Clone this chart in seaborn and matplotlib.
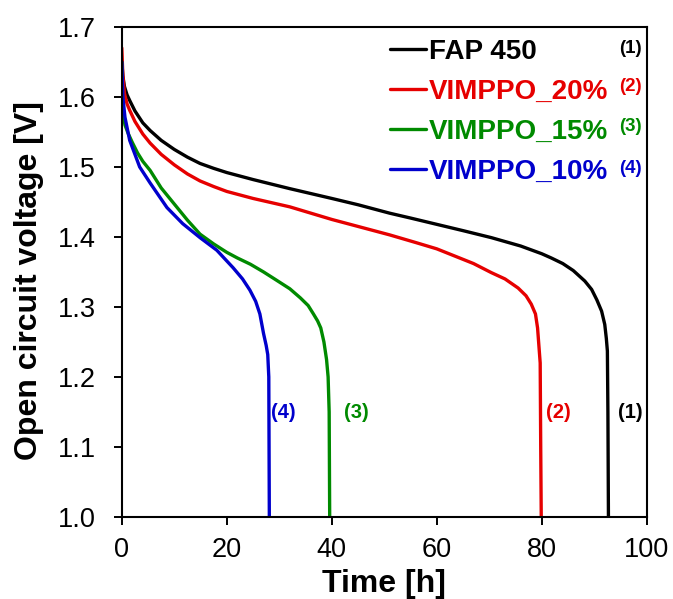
import pandas as pd
import matplotlib.pyplot as plt
import seaborn as sns

# valeurs (t en h, tension en V)
t_fap = [0, 0.2, 0.5, 1, 1.5, 2.5, 4, 5.4, 7.5, 10, 12.5, 14.9, 17.5, 20, 25, 32, 40, 45, 51, 55, 60, 65,
         70.4, 76, 80, 81.8, 84, 86, 88.2, 89.5, 90.5, 91.4, 92, 92.3, 92.5, 92.6, 92.7]
v_fap = [1.65, 1.63, 1.615, 1.603, 1.595, 1.58, 1.563, 1.552, 1.538, 1.525, 1.514, 1.505, 1.498, 1.492, 1.482,
         1.469, 1.455, 1.446, 1.434, 1.427, 1.418, 1.409, 1.399, 1.387, 1.376, 1.37, 1.362, 1.352, 1.337, 1.325,
         1.31, 1.294, 1.275, 1.255, 1.237, 1.15, 1.0]

t_20 = [0, 0.2, 0.5, 1, 1.5, 2.5, 4, 5.4, 7.5, 10, 12.5, 14.9, 17.5, 20, 25, 32, 40, 45, 51, 56, 60, 64, 67,
        70.4, 73, 75.5, 77, 78, 78.8, 79.2, 79.5, 79.7, 79.8, 79.9]
v_20 = [1.67, 1.63, 1.605, 1.59, 1.581, 1.565, 1.547, 1.534, 1.518, 1.503, 1.49, 1.48, 1.472, 1.465, 1.455,
        1.443, 1.425, 1.415, 1.403, 1.392, 1.383, 1.371, 1.362, 1.349, 1.34, 1.327, 1.316, 1.304, 1.29, 1.27,
        1.24, 1.22, 1.1, 1.0]

t_15 = [0, 0.15, 0.3, 0.6, 1.2, 2, 3, 4, 5.4, 7.5, 10, 12.5, 14.9, 17.5, 20, 22, 24.5, 27, 29.3, 32, 34,
        35.5, 36.5, 37.3, 37.9, 38.5, 39, 39.3, 39.5, 39.6]
v_15 = [1.65, 1.6, 1.575, 1.56, 1.548, 1.535, 1.52, 1.508, 1.495, 1.47, 1.447, 1.424, 1.404, 1.39, 1.378,
        1.37, 1.361, 1.35, 1.339, 1.326, 1.313, 1.302, 1.29, 1.28, 1.27, 1.25, 1.225, 1.2, 1.15, 1.0]

t_10 = [0, 0.2, 0.6, 1.5, 3.4, 5.4, 8.6, 11.6, 14.9, 18.1, 21.2, 23, 24.4, 25.5, 26.3, 27, 27.5, 27.8, 28.0,
        28.05, 28.1]
v_10 = [1.65, 1.6, 1.571, 1.538, 1.5, 1.477, 1.442, 1.419, 1.399, 1.381, 1.356, 1.34, 1.324, 1.308, 1.29,
        1.262, 1.245, 1.232, 1.2, 1.1, 1.0]

series = ["FAP 450", "VIMPPO_20%", "VIMPPO_15%", "VIMPPO_10%"]
numeros = ["(1)", "(2)", "(3)", "(4)"]
couleurs = ["black", "#e60000", "#008a00", "#0000cc"]
pos_labels_t = [96.9, 83.1, 44.7, 30.7]
pos_labels_v = [1.149, 1.149, 1.149, 1.149]

frames = []
for nom, t, v in zip(series, [t_fap, t_20, t_15, t_10], [v_fap, v_20, v_15, v_10]):
    frames.append(pd.DataFrame({"t": t, "v": v, "serie": nom}))
df = pd.concat(frames, ignore_index=True)

sns.set_theme(style="white")
plt.rcParams["font.family"] = ["Liberation Sans", "DejaVu Sans"]
plt.rcParams.update({"text.color": "black", "axes.labelcolor": "black",
                     "xtick.color": "black", "ytick.color": "black"})

fig = plt.figure(figsize=(6.73, 5.99), dpi=100)
ax = fig.add_axes([0.181, 0.137, 0.780, 0.818])

sns.lineplot(data=df, x="t", y="v", hue="serie", hue_order=series,
             palette=dict(zip(series, couleurs)), sort=False, estimator=None,
             linewidth=2.4, ax=ax)

ax.set_xlim(0, 100)
ax.set_ylim(1.0, 1.7)
ax.set_xticks(range(0, 101, 20))
ax.set_yticks([1.0, 1.1, 1.2, 1.3, 1.4, 1.5, 1.6, 1.7])
ax.set_yticklabels([f"{y:.1f}" for y in ax.get_yticks()])
ax.tick_params(axis="both", labelsize=19.5, direction="out", length=5.5, width=1.4,
               bottom=True, left=True)
ax.tick_params(axis="y", pad=13)
ax.tick_params(axis="x", pad=9)
for sp in ax.spines.values():
    sp.set_color("black")
    sp.set_linewidth(1.5)

ax.set_xlabel("Time [h]", fontsize=23, fontweight="bold", labelpad=4.5)
ax.set_ylabel("Open circuit voltage [V]", fontsize=23, fontweight="bold", labelpad=10, y=0.482)

handles, labels = ax.get_legend_handles_labels()
leg = ax.legend(handles, labels, loc="upper right", bbox_to_anchor=(0.926, 0.975),
                frameon=False, handlelength=1.3, handletextpad=0.1, labelspacing=0.5,
                borderpad=0, borderaxespad=0, prop={"weight": "bold", "size": 20},
                labelcolor="linecolor")

y_num = [0.957, 0.879, 0.796, 0.712]
for num, c, yn in zip(numeros, couleurs, y_num):
    ax.text(0.991, yn, num, transform=ax.transAxes, ha="right", va="center",
            color=c, fontsize=13.5, fontweight="bold")

for num, c, tx, vy in zip(numeros, couleurs, pos_labels_t, pos_labels_v):
    ax.text(tx, vy, num, ha="center", va="center", color=c, fontsize=14.5, fontweight="bold")

plt.savefig("out.png", dpi=100)
plt.close()
